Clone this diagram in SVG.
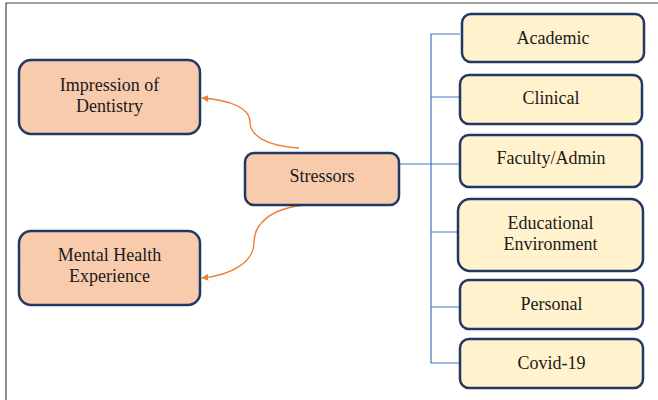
<svg xmlns="http://www.w3.org/2000/svg" width="658" height="400" viewBox="0 0 658 400" font-family="'Liberation Serif', 'DejaVu Serif', serif">
<defs>
<style>
.o rect{fill:#F8CBAD;stroke:#1F3864;stroke-width:2.5}
.y rect{fill:#FFF2CC;stroke:#1F3864;stroke-width:2.5}
text{font-family:'Liberation Serif','DejaVu Serif',serif;font-size:18px;fill:#1a1a1a;text-anchor:middle}
.b{fill:none;stroke:#4472C4;stroke-width:1.2}
.a{fill:none;stroke:#ED7D31;stroke-width:1.3;marker-end:url(#ah)}
</style>
<marker id="ah" viewBox="0 0 10 10" refX="9" refY="5" markerWidth="7" markerHeight="7" markerUnits="userSpaceOnUse" orient="auto">
<path d="M0,0 L10,5 L0,10 z" fill="#ED7D31"/>
</marker>
</defs>
<rect width="658" height="400" fill="#fff"/>
<path d="M6,400 V3 H658" fill="none" stroke="#444" stroke-width="1.2"/>
<g id="connectors">
<path class="b" d="M460,34 H431 V363 H460 M431,97 H460 M400,164 H460 M431,232 H458 M431,307 H460"/>
<path class="a" d="M299,148 C265,146 250,135 250,122 C250,108 230,100 202,98"/>
<path class="a" d="M308,205 C270,207 254,225 254,242 C254,262 232,275 202,278"/>
</g>
<g id="impression" class="o"><rect x="19" y="60" width="181" height="74" rx="12"/><text x="109.5" y="91">Impression of</text><text x="109.5" y="112">Dentistry</text></g>
<g id="mental" class="o"><rect x="19" y="231" width="181" height="74" rx="12"/><text x="109.5" y="261">Mental Health</text><text x="109.5" y="282">Experience</text></g>
<g id="stressors" class="o"><rect x="245" y="153" width="154" height="52" rx="9"/><text x="322" y="182">Stressors</text></g>
<g id="academic" class="y"><rect x="462" y="14" width="182" height="48" rx="9"/><text x="553" y="44">Academic</text></g>
<g id="clinical" class="y"><rect x="460" y="75" width="182" height="49" rx="9"/><text x="551" y="104">Clinical</text></g>
<g id="faculty" class="y"><rect x="460" y="135" width="182" height="52" rx="9"/><text x="551" y="164">Faculty/Admin</text></g>
<g id="educational" class="y"><rect x="458" y="199" width="185" height="72" rx="12"/><text x="550.5" y="229">Educational</text><text x="550.5" y="250">Environment</text></g>
<g id="personal" class="y"><rect x="460" y="280" width="183" height="49" rx="9"/><text x="551.5" y="310">Personal</text></g>
<g id="covid" class="y"><rect x="460" y="339" width="183" height="49" rx="9"/><text x="551.5" y="369">Covid-19</text></g>
</svg>
